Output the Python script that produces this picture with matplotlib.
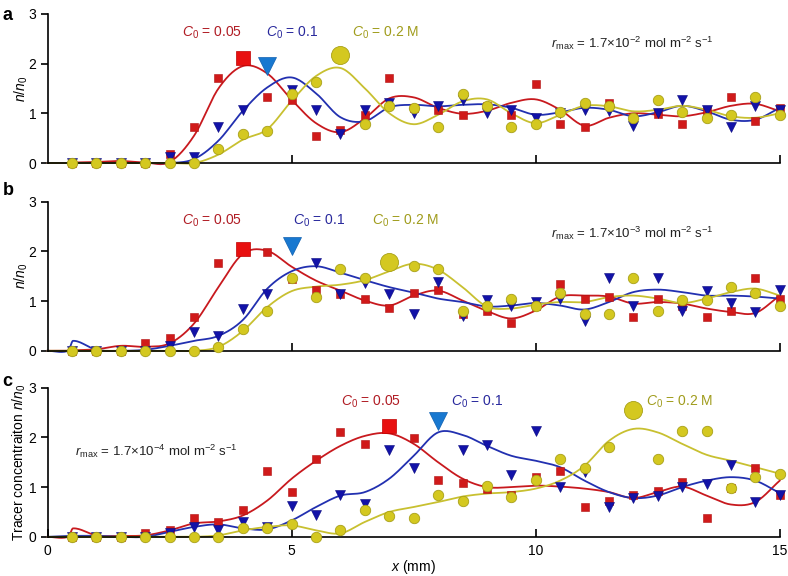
import matplotlib
matplotlib.use('Agg')
import matplotlib.pyplot as plt
import numpy as np

plt.rcParams['font.family'] = ['Liberation Sans', 'DejaVu Sans']
plt.rcParams['mathtext.fontset'] = 'custom'
plt.rcParams['mathtext.rm'] = 'Liberation Sans'
plt.rcParams['mathtext.it'] = 'Liberation Sans:italic'
plt.rcParams['mathtext.bf'] = 'Liberation Sans:bold'

# measured points, x = 0.5 ... 15 mm
x_pts = np.arange(0.5, 15.01, 0.5)
# fitted curves, sampled at these x (mm)
x_fit = [0, 0.42, 0.52, 1.0, 1.5, 2.0, 2.5, 3.0, 3.5, 4.0, 4.5, 5.0, 5.5, 6.0, 6.5, 7.0,
         7.5, 8.0, 8.5, 9.0, 9.5, 10.0, 10.5, 11.0, 11.5, 12.0, 12.5, 13.0, 13.5, 14.0, 14.5, 15.0]

a_red = [0, 0, 0, 0, 0.19, 0.72, 1.70, 2.11, 1.32, 1.27, 0.54, 0.66, 0.96, 1.70, 1.11,
         1.07, 0.96, 1.15, 0.96, 1.58, 0.79, 0.73, 1.21, 0.93, 0.98, 0.79, 1.05, 1.33, 0.84, 1.11]
a_blue = [0, 0, 0, 0, 0.12, 0.13, 0.72, 1.07, 1.95, 1.46, 1.07, 0.58, 1.07, 1.21, 1.00,
          1.14, 1.27, 1.00, 1.07, 0.90, 1.00, 1.07, 1.04, 0.75, 1.00, 1.27, 1.07, 0.72, 1.14, 1.07]
a_yellow = [0, 0, 0, 0, 0, 0, 0.29, 0.59, 0.65, 1.38, 1.63, 2.18, 0.79, 1.14, 1.11,
            0.72, 1.39, 1.15, 0.72, 0.79, 1.03, 1.21, 1.14, 0.90, 1.27, 1.03, 0.90, 0.96, 1.33, 0.96]
a_red_fit = [0, 0, 0.01, 0.02, 0.04, 0.01, 0.02, 0.55, 1.5, 1.95, 1.8, 1.27, 0.8, 0.62, 0.9, 1.3,
             1.32, 1.11, 0.99, 1.05, 1.21, 1.28, 1.07, 0.75, 0.91, 1.0, 0.97, 0.94, 1.02, 1.15, 1.19, 1.04]
a_blue_fit = [0, 0, 0, 0, 0, 0, 0, 0.08, 0.45, 1.05, 1.52, 1.72, 1.4, 0.92, 0.84, 1.12,
              1.17, 1.14, 1.17, 1.18, 1.11, 0.97, 1.02, 1.11, 1.07, 0.94, 1.02, 1.15, 1.04, 0.87, 0.87, 1.11]
a_yellow_fit = [0, 0, 0, 0, 0, 0, 0, 0, 0.17, 0.47, 0.68, 1.25, 1.75, 1.91, 1.5, 1.0,
                0.78, 0.97, 1.24, 1.28, 1.0, 0.8, 0.97, 1.15, 1.14, 1.04, 1.07, 1.15, 1.07, 0.94, 0.91, 1.0]

b_red = [0, 0, 0, 0.15, 0.26, 0.67, 1.76, 2.05, 1.99, 1.45, 1.23, 1.15, 1.04, 0.87, 1.16,
         1.23, 0.73, 0.80, 0.56, 0.90, 1.35, 1.04, 1.09, 0.68, 1.05, 0.91, 0.68, 0.81, 1.47, 1.05]
b_blue = [0, 0, 0, 0, 0.09, 0.38, 0.30, 0.85, 1.15, 2.11, 1.76, 1.15, 1.37, 1.15, 0.73,
          1.39, 0.70, 1.03, 0.91, 0.98, 1.05, 0.59, 1.46, 0.91, 1.46, 0.79, 1.21, 0.97, 0.77, 1.23]
b_yellow = [0, 0, 0, 0, 0, 0, 0.08, 0.43, 0.79, 1.46, 1.09, 1.65, 1.47, 1.78, 1.70,
            1.65, 0.79, 0.91, 1.04, 0.91, 1.16, 0.73, 0.73, 1.46, 0.79, 1.03, 1.03, 1.28, 1.16, 0.91]
b_red_fit = [0, 0, 0.01, 0.03, 0.1, 0.08, 0.15, 0.55, 1.28, 1.95, 2.01, 1.69, 1.41, 1.21, 1.01, 0.91,
             1.11, 1.21, 1.01, 0.8, 0.65, 0.81, 1.09, 1.11, 1.09, 0.95, 0.98, 0.95, 0.85, 0.78, 0.76, 1.11]
b_blue_fit = [0, 0, 0.2, 0.02, 0, 0.02, 0.1, 0.2, 0.3, 0.62, 1.25, 1.6, 1.7, 1.57, 1.42, 1.28,
              1.17, 1.05, 0.98, 0.89, 0.91, 0.96, 0.91, 0.83, 0.98, 1.18, 1.23, 1.18, 1.11, 1.11, 1.09, 1.05]
b_yellow_fit = [0, 0, 0, 0, 0, 0, 0, 0, 0.08, 0.4, 0.88, 1.2, 1.29, 1.33, 1.42, 1.6,
                1.75, 1.63, 1.28, 0.89, 0.85, 0.93, 0.98, 0.98, 1.08, 1.11, 1.05, 0.96, 1.05, 1.18, 1.25, 1.11]

c_red = [0, 0, 0, 0.07, 0.13, 0.37, 0.29, 0.53, 1.33, 0.90, 1.57, 2.11, 1.87, 2.23, 1.99,
         1.15, 1.09, 0.97, 0.85, 1.21, 1.33, 0.60, 0.73, 0.85, 0.93, 1.10, 0.37, 0.98, 1.39, 0.85]
c_blue = [0, 0, 0, 0, 0.08, 0.20, 0.13, 0.30, 0.20, 0.61, 0.43, 0.85, 0.67, 1.75, 1.39,
          2.33, 1.75, 1.85, 1.25, 2.12, 1.01, 1.31, 0.59, 0.78, 0.83, 1.01, 1.07, 1.45, 0.71, 0.85]
c_yellow = [0, 0, 0, 0, 0, 0, 0, 0.18, 0.18, 0.25, 0, 0.13, 0.53, 0.42, 0.37,
            0.85, 0.73, 1.03, 0.80, 1.15, 1.57, 1.39, 1.81, 2.55, 1.57, 2.12, 2.12, 0.98, 1.21, 1.27]
c_red_fit = [0, 0, 0.17, 0.03, 0.02, 0.03, 0.13, 0.27, 0.31, 0.43, 0.73, 1.17, 1.53, 1.83, 2.03, 2.08,
             1.87, 1.5, 1.17, 1.0, 1.0, 1.03, 1.01, 0.97, 0.9, 0.78, 0.9, 1.01, 0.83, 0.65, 0.7, 1.13]
c_blue_fit = [0, 0.02, 0.02, 0.02, 0, 0, 0.1, 0.2, 0.25, 0.17, 0.15, 0.33, 0.6, 0.83, 0.9, 1.17,
              1.63, 2.1, 2.05, 1.83, 1.63, 1.53, 1.4, 1.13, 0.9, 0.78, 0.83, 1.0, 1.13, 1.2, 1.13, 0.88]
c_yellow_fit = [0, 0, 0, 0, 0, 0, 0, 0, 0.03, 0.13, 0.2, 0.23, 0.13, 0.07, 0.3, 0.5,
                0.6, 0.7, 0.81, 0.87, 0.9, 0.97, 1.13, 1.43, 1.93, 2.17, 2.1, 1.87, 1.65, 1.53, 1.4, 1.27]

# x of the enlarged (peak) marker for red, blue, yellow in each panel
peaks = {'a': (4.0, 4.5, 6.0), 'b': (4.0, 5.0, 7.0), 'c': (7.0, 8.0, 12.0)}
rmax_exp = {'a': '-2', 'b': '-3', 'c': '-4'}

RED, BLUE, YELLOW = '#d01a1a', '#1212a8', '#d4c820'
RED_LINE, BLUE_LINE, YELLOW_LINE = '#c8191e', '#2230b0', '#c8c030'
RED_TXT, BLUE_TXT, YELLOW_TXT = '#b01c24', '#28289c', '#a09c1c'


def smooth(xs, ys, n=16):
    # cubic Hermite through the sampled fit values (finite-difference tangents)
    xs = np.asarray(xs, float)
    ys = np.asarray(ys, float)
    m = np.zeros_like(ys)
    m[1:-1] = (ys[2:] - ys[:-2]) / (xs[2:] - xs[:-2])
    m[0] = (ys[1] - ys[0]) / (xs[1] - xs[0])
    m[-1] = (ys[-1] - ys[-2]) / (xs[-1] - xs[-2])
    t = np.linspace(0, 1, n, endpoint=False)
    h00 = 2 * t ** 3 - 3 * t ** 2 + 1
    h10 = t ** 3 - 2 * t ** 2 + t
    h01 = -2 * t ** 3 + 3 * t ** 2
    h11 = t ** 3 - t ** 2
    out_x, out_y = [], []
    for i in range(len(xs) - 1):
        h = xs[i + 1] - xs[i]
        out_x.append(xs[i] + t * h)
        out_y.append(h00 * ys[i] + h10 * h * m[i] + h01 * ys[i + 1] + h11 * h * m[i + 1])
    out_x.append([xs[-1]])
    out_y.append([ys[-1]])
    return np.concatenate(out_x), np.concatenate(out_y)


panels = {
    'a': (a_red, a_blue, a_yellow, a_red_fit, a_blue_fit, a_yellow_fit),
    'b': (b_red, b_blue, b_yellow, b_red_fit, b_blue_fit, b_yellow_fit),
    'c': (c_red, c_blue, c_yellow, c_red_fit, c_blue_fit, c_yellow_fit),
}

# label positions in data coords: (red C0, blue C0, yellow C0, rmax)
label_pos = {
    'a': ((2.75, 2.62), (4.48, 2.62), (6.24, 2.62), (10.31, 2.4)),
    'b': ((2.75, 2.61), (5.02, 2.61), (6.65, 2.61), (10.31, 2.37)),
    'c': ((6.02, 2.72), (8.27, 2.72), (12.26, 2.72), (0.56, 1.72)),
}

fig = plt.figure(figsize=(7.88, 5.76), dpi=100)
bottoms = {'a': 0.717, 'b': 0.391, 'c': 0.068}
fs = 10

for key in ['a', 'b', 'c']:
    ax = fig.add_axes([0.0605, bottoms[key], 0.929, 0.259])
    red, blue, yellow, red_fit, blue_fit, yellow_fit = panels[key]

    for fit, col in [(red_fit, RED_LINE), (blue_fit, BLUE_LINE), (yellow_fit, YELLOW_LINE)]:
        sx, sy = smooth(x_fit, fit)
        ax.plot(sx, sy, color=col, lw=1.3, zorder=2, clip_on=False)

    pk_red, pk_blue, pk_yellow = peaks[key]
    red = np.array(red)
    blue = np.array(blue)
    yellow = np.array(yellow)
    m_r = np.isclose(x_pts, pk_red)
    m_b = np.isclose(x_pts, pk_blue)
    m_y = np.isclose(x_pts, pk_yellow)

    ax.plot(x_pts[~m_r], red[~m_r], 's', color=RED, ms=5.5, mec='#b01010', mew=0.4,
            zorder=3, clip_on=False)
    ax.plot(x_pts[~m_b], blue[~m_b], 'v', color=BLUE, ms=7, mec='#0a0a80', mew=0.4,
            zorder=4, clip_on=False)
    ax.plot(x_pts[~m_y], yellow[~m_y], 'o', color=YELLOW, ms=7.5, mec='#a8a018', mew=0.6,
            zorder=5, clip_on=False)
    ax.plot(x_pts[m_r], red[m_r], 's', color='#e81010', ms=10, mec='#c00000', mew=0.5,
            zorder=3, clip_on=False)
    ax.plot(x_pts[m_b], blue[m_b], 'v', color='#1878d0', ms=13, mec='#1060b0', mew=0.5,
            zorder=4, clip_on=False)
    ax.plot(x_pts[m_y], yellow[m_y], 'o', color=YELLOW, ms=13, mec='#a8a018', mew=0.6,
            zorder=5, clip_on=False)

    ax.set_xlim(0, 15)
    ax.set_ylim(0, 3)
    for s in ['top', 'right']:
        ax.spines[s].set_visible(False)
    for s in ['left', 'bottom']:
        ax.spines[s].set_linewidth(1.2)
    ax.set_yticks([0, 1, 2, 3])
    ax.tick_params(axis='y', direction='out', length=5, width=1.2, labelsize=fs, pad=3)
    if key == 'c':
        ax.set_xticks([0, 5, 10, 15])
        ax.tick_params(axis='x', direction='in', length=6, width=1.2, labelsize=fs, pad=5)
        ax.set_xlabel('$x$ (mm)', fontsize=fs, labelpad=0.5)
        ax.set_ylabel('Tracer concentraiton $n/n_0$', fontsize=fs)
        ax.yaxis.set_label_coords(-0.027, 0.5)
    else:
        ax.set_xticks([5, 10, 15])
        ax.set_xticklabels([])
        ax.tick_params(axis='x', direction='in', length=6, width=1.2)
        ax.set_ylabel('$n/n_0$', fontsize=fs)
        ax.yaxis.set_label_coords(-0.024, 0.5)

    (rx, ry), (bx, by), (yx, yy), (mx, my) = label_pos[key]
    ax.text(rx, ry, '$C_0$ = 0.05', color=RED_TXT, fontsize=fs, va='center', ha='left')
    ax.text(bx, by, '$C_0$ = 0.1', color=BLUE_TXT, fontsize=fs, va='center', ha='left')
    ax.text(yx, yy, '$C_0$ = 0.2 M', color=YELLOW_TXT, fontsize=fs, va='center', ha='left')
    ax.text(mx, my, r'$r_{\mathrm{max}}$ = 1.7$\times$10$^{' + rmax_exp[key] + r'}$ mol m$^{-2}$ s$^{-1}$',
            color='#222222', fontsize=9.5, va='center', ha='left')

fig.text(0.003, 0.973, 'a', fontsize=13, fontweight='bold', va='center')
fig.text(0.003, 0.67, 'b', fontsize=13, fontweight='bold', va='center')
fig.text(0.003, 0.337, 'c', fontsize=13, fontweight='bold', va='center')

fig.savefig('out.png', dpi=100)
